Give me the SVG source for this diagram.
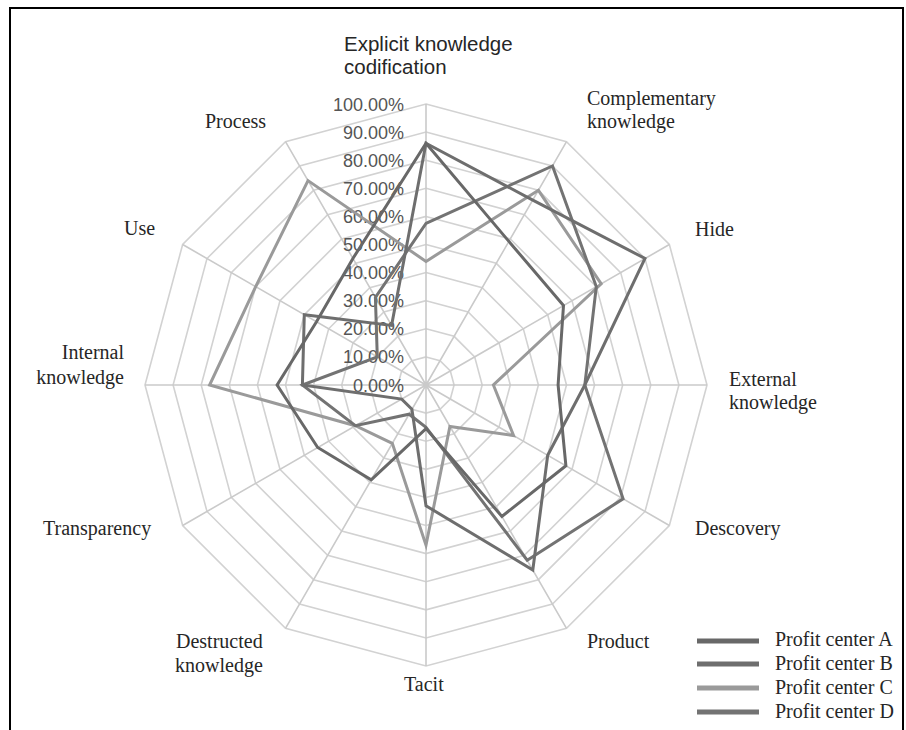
<svg xmlns="http://www.w3.org/2000/svg" width="906" height="730" viewBox="0 0 906 730">
<style>
.ring{fill:none;stroke:#d2d2d2;stroke-width:1.6}
.spoke{stroke:#cacaca;stroke-width:1.6}
.val{font-family:"Liberation Sans",Arial,sans-serif;font-size:18px;fill:#555;text-anchor:end}
.cat{font-family:"Liberation Serif","Times New Roman",serif;font-size:20px;fill:#262626}
.catS{font-family:"Liberation Sans",Arial,sans-serif;font-size:20.5px;fill:#262626}
.ser{fill:none;stroke-width:3;stroke-linejoin:miter}
.leg{stroke-width:5}
</style>
<rect width="906" height="730" fill="#fff"/>
<path d="M10,730 V8 H903 V730" fill="none" stroke="#000" stroke-width="2"/>
<g id="grid" transform="translate(426 385)">
<polygon class="ring" points="0,-28.1 14.05,-24.33 24.33,-14.05 28.1,0 24.33,14.05 14.05,24.33 0,28.1 -14.05,24.33 -24.33,14.05 -28.1,0 -24.33,-14.05 -14.05,-24.33"/>
<polygon class="ring" points="0,-56.2 28.1,-48.67 48.67,-28.1 56.2,0 48.67,28.1 28.1,48.67 0,56.2 -28.1,48.67 -48.67,28.1 -56.2,0 -48.67,-28.1 -28.1,-48.67"/>
<polygon class="ring" points="0,-84.3 42.15,-73 73,-42.15 84.3,0 73,42.15 42.15,73 0,84.3 -42.15,73 -73,42.15 -84.3,0 -73,-42.15 -42.15,-73"/>
<polygon class="ring" points="0,-112.4 56.2,-97.34 97.34,-56.2 112.4,0 97.34,56.2 56.2,97.34 0,112.4 -56.2,97.34 -97.34,56.2 -112.4,0 -97.34,-56.2 -56.2,-97.34"/>
<polygon class="ring" points="0,-140.5 70.25,-121.67 121.67,-70.25 140.5,0 121.67,70.25 70.25,121.67 0,140.5 -70.25,121.67 -121.67,70.25 -140.5,0 -121.67,-70.25 -70.25,-121.67"/>
<polygon class="ring" points="0,-168.6 84.3,-146.01 146.01,-84.3 168.6,0 146.01,84.3 84.3,146.01 0,168.6 -84.3,146.01 -146.01,84.3 -168.6,0 -146.01,-84.3 -84.3,-146.01"/>
<polygon class="ring" points="0,-196.7 98.35,-170.34 170.34,-98.35 196.7,0 170.34,98.35 98.35,170.34 0,196.7 -98.35,170.34 -170.34,98.35 -196.7,0 -170.34,-98.35 -98.35,-170.34"/>
<polygon class="ring" points="0,-224.8 112.4,-194.68 194.68,-112.4 224.8,0 194.68,112.4 112.4,194.68 0,224.8 -112.4,194.68 -194.68,112.4 -224.8,0 -194.68,-112.4 -112.4,-194.68"/>
<polygon class="ring" points="0,-252.9 126.45,-219.01 219.01,-126.45 252.9,0 219.01,126.45 126.45,219.01 0,252.9 -126.45,219.01 -219.01,126.45 -252.9,0 -219.01,-126.45 -126.45,-219.01"/>
<polygon class="ring" points="0,-281 140.5,-243.35 243.35,-140.5 281,0 243.35,140.5 140.5,243.35 0,281 -140.5,243.35 -243.35,140.5 -281,0 -243.35,-140.5 -140.5,-243.35"/>
<path class="spoke" d="M0,0 L0,-281 M0,0 L140.5,-243.35 M0,0 L243.35,-140.5 M0,0 L281,0 M0,0 L243.35,140.5 M0,0 L140.5,243.35 M0,0 L0,281 M0,0 L-140.5,243.35 M0,0 L-243.35,140.5 M0,0 L-281,0 M0,0 L-243.35,-140.5 M0,0 L-140.5,-243.35"/>
</g>
<g id="axis-values">
<text class="val" x="404" y="391.5">0.00%</text>
<text class="val" x="404" y="363.4">10.00%</text>
<text class="val" x="404" y="335.3">20.00%</text>
<text class="val" x="404" y="307.2">30.00%</text>
<text class="val" x="404" y="279.1">40.00%</text>
<text class="val" x="404" y="251">50.00%</text>
<text class="val" x="404" y="222.9">60.00%</text>
<text class="val" x="404" y="194.8">70.00%</text>
<text class="val" x="404" y="166.7">80.00%</text>
<text class="val" x="404" y="138.6">90.00%</text>
<text class="val" x="404" y="110.5">100.00%</text>
</g>
<g id="series" transform="translate(426 385)">
<polygon id="series-C" class="ser" stroke="#9a9a9a" points="0,-123.6 112.4,-194.7 175.2,-101.2 67.4,0 87.6,50.6 23.9,41.4 0,160.2 -33.7,58.4 -70.6,40.7 -216.4,0 -170.3,-98.4 -118,-204.4"/>
<polygon id="series-D" class="ser" stroke="#737373" points="0,-161.6 126.5,-219 170.3,-98.4 158.8,0 197.1,113.8 101.2,175.2 0,42.2 -16.9,29.2 -70.6,40.7 -123.6,0 -48.7,-28.1 -50.6,-87.6"/>
<polygon id="series-B" class="ser" stroke="#6e6e6e" points="0,-241.7 106.8,-184.9 219,-126.5 158.8,0 121.7,70.3 106.8,185 0,120.8 -14.1,24.3 -24.3,14.1 -123.6,0 -121.7,-70.3 -34.4,-59.6"/>
<polygon id="series-A" class="ser" stroke="#686868" points="0,-241.7 82.9,-143.6 137.5,-79.4 132.1,0 139.9,80.8 75.9,131.4 0,43.6 -54.8,94.9 -108.3,62.5 -148.9,0 -109.5,-63.2 -73.1,-126.5"/>
</g>
<g id="labels">
<g id="lbl-explicit"><text class="catS" x="344" y="51">Explicit knowledge</text><text class="catS" x="344" y="74">codification</text></g>
<g id="lbl-complementary"><text class="cat" x="587" y="105">Complementary</text><text class="cat" x="587" y="128">knowledge</text></g>
<g id="lbl-hide"><text class="cat" x="695" y="236">Hide</text></g>
<g id="lbl-external"><text class="cat" x="729" y="386">External</text><text class="cat" x="729" y="409">knowledge</text></g>
<g id="lbl-descovery"><text class="cat" x="695" y="535">Descovery</text></g>
<g id="lbl-product"><text class="cat" x="587" y="648">Product</text></g>
<g id="lbl-tacit"><text class="cat" x="404" y="691">Tacit</text></g>
<g id="lbl-destructed"><text class="cat" x="176" y="648">Destructed</text><text class="cat" x="175" y="672">knowledge</text></g>
<g id="lbl-transparency"><text class="cat" x="43" y="535">Transparency</text></g>
<g id="lbl-internal"><text class="cat" x="124" y="359" text-anchor="end">Internal</text><text class="cat" x="124" y="384" text-anchor="end">knowledge</text></g>
<g id="lbl-use"><text class="cat" x="124" y="235">Use</text></g>
<g id="lbl-process"><text class="cat" x="205" y="128">Process</text></g>
</g>
<g id="legend">
<g id="leg-A"><line class="leg" x1="697" y1="641" x2="759" y2="641" stroke="#686868"/><text class="cat" x="775" y="646">Profit center A</text></g>
<g id="leg-B"><line class="leg" x1="697" y1="664" x2="759" y2="664" stroke="#6e6e6e"/><text class="cat" x="775" y="670">Profit center B</text></g>
<g id="leg-C"><line class="leg" x1="697" y1="688" x2="759" y2="688" stroke="#9a9a9a"/><text class="cat" x="775" y="694">Profit center C</text></g>
<g id="leg-D"><line class="leg" x1="697" y1="712" x2="759" y2="712" stroke="#737373"/><text class="cat" x="775" y="718">Profit center D</text></g>
</g>
</svg>
